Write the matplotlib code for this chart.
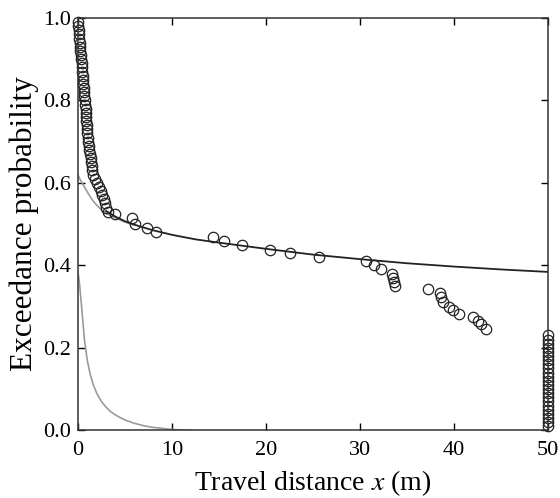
import matplotlib
matplotlib.use("Agg")
from matplotlib import pyplot as plt

plt.rcParams['font.family'] = ['Liberation Serif', 'DejaVu Serif']
plt.rcParams['mathtext.fontset'] = 'stix'

# observed exceedance probabilities (open circles)
obs_x = [0.02, 0.05, 0.08, 0.12, 0.16, 0.20, 0.24, 0.28, 0.32, 0.36,
         0.40, 0.43, 0.47, 0.50, 0.54, 0.58, 0.62, 0.66, 0.70, 0.74,
         0.78, 0.82, 0.86, 0.89, 0.92, 0.95, 0.98, 1.01, 1.05, 1.10,
         1.15, 1.20, 1.28, 1.35, 1.40, 1.46, 1.55, 1.65, 1.85, 2.05,
         2.25, 2.45, 2.55, 2.75, 2.85, 3.00, 3.20, 4.00, 5.80, 6.10,
         7.30, 8.30, 14.4, 15.5, 17.4, 20.4, 22.5, 25.6, 30.6, 31.5,
         32.2, 33.4, 33.5, 33.6, 33.7, 37.2, 38.5, 38.6, 38.8, 39.5,
         39.9, 40.5, 42.0, 42.5, 42.9, 43.4]
obs_y = [0.99, 0.98, 0.97, 0.96, 0.95, 0.94, 0.93, 0.92, 0.91, 0.90,
         0.89, 0.88, 0.87, 0.86, 0.85, 0.84, 0.83, 0.82, 0.81, 0.80,
         0.79, 0.78, 0.77, 0.76, 0.75, 0.74, 0.73, 0.72, 0.71, 0.70,
         0.69, 0.68, 0.67, 0.66, 0.65, 0.64, 0.63, 0.62, 0.61, 0.60,
         0.59, 0.58, 0.57, 0.56, 0.55, 0.54, 0.53, 0.525, 0.515, 0.50,
         0.49, 0.48, 0.468, 0.459, 0.449, 0.438, 0.43, 0.42, 0.41, 0.40,
         0.39, 0.38, 0.37, 0.36, 0.35, 0.342, 0.332, 0.322, 0.311, 0.30,
         0.292, 0.281, 0.275, 0.266, 0.257, 0.245]
# particles that reached the end of the flume (x = 50 m)
end_x = [50] * 23
end_y = [0.23, 0.22, 0.21, 0.20, 0.19, 0.18, 0.17, 0.16, 0.15, 0.14,
         0.13, 0.12, 0.11, 0.10, 0.09, 0.08, 0.07, 0.06, 0.05, 0.04,
         0.03, 0.02, 0.01]

# fitted model curves
fit_x = [3.0, 4.0, 5.0, 6.5, 8.0, 10.0, 12.5, 15.0, 20.0, 25.0, 30.0, 35.0, 40.0, 45.0, 50.0]
fit_y = [0.532, 0.518, 0.507, 0.495, 0.485, 0.474, 0.463, 0.455, 0.440, 0.426, 0.415, 0.405, 0.397, 0.390, 0.384]

upper_x = [0.0, 0.2, 0.4, 0.7, 1.0, 1.5, 2.0, 2.5, 3.0, 3.5, 4.0, 5.0, 6.0]
upper_y = [0.62, 0.61, 0.602, 0.59, 0.578, 0.56, 0.546, 0.535, 0.527, 0.52, 0.515, 0.505, 0.497]

lower_x = [0.0, 0.1, 0.2, 0.4, 0.7, 1.0, 1.3, 1.6, 2.0, 2.5, 3.0, 3.5, 4.0, 5.0, 6.0, 7.0, 8.0, 10.0, 12.0]
lower_y = [0.385, 0.37, 0.35, 0.30, 0.22, 0.17, 0.137, 0.113, 0.09, 0.07, 0.056, 0.045, 0.037, 0.025, 0.017, 0.011, 0.007, 0.002, 0.0]

fig = plt.figure(figsize=(5.6, 4.98), dpi=100)
ax = fig.add_axes([0.139, 0.136, 0.840, 0.828])

ax.plot(upper_x, upper_y, color='#9a9a9a', lw=1.2)
ax.plot(lower_x, lower_y, color='#9a9a9a', lw=1.2)
ax.plot(fit_x, fit_y, color='#222222', lw=1.3)

ax.plot(obs_x, obs_y, 'o', ms=7.5, mfc='none', mec='#222222', mew=0.9, clip_on=False)
ax.plot(end_x, end_y, 'o', ms=7.5, mfc='none', mec='#222222', mew=0.9, clip_on=False)

ax.set_xlim(0, 50)
ax.set_ylim(0, 1.0)
ax.set_xticks([0, 10, 20, 30, 40, 50])
ax.set_yticks([0.0, 0.2, 0.4, 0.6, 0.8, 1.0])
ax.set_yticklabels(['0.0', '0.2', '0.4', '0.6', '0.8', '1.0'])
ax.tick_params(direction='in', top=True, right=True, length=5, width=1, labelsize=16)
ax.tick_params(axis='x', pad=8)
ax.tick_params(axis='y', pad=5)
for s in ax.spines.values():
    s.set_linewidth(1.1)
    s.set_color('#333333')

ax.set_xlabel('Travel distance $x$ (m)', fontsize=20, labelpad=6)
ax.set_ylabel('Exceedance probability', fontsize=22.5, labelpad=3)

fig.savefig('out.png', dpi=100)
